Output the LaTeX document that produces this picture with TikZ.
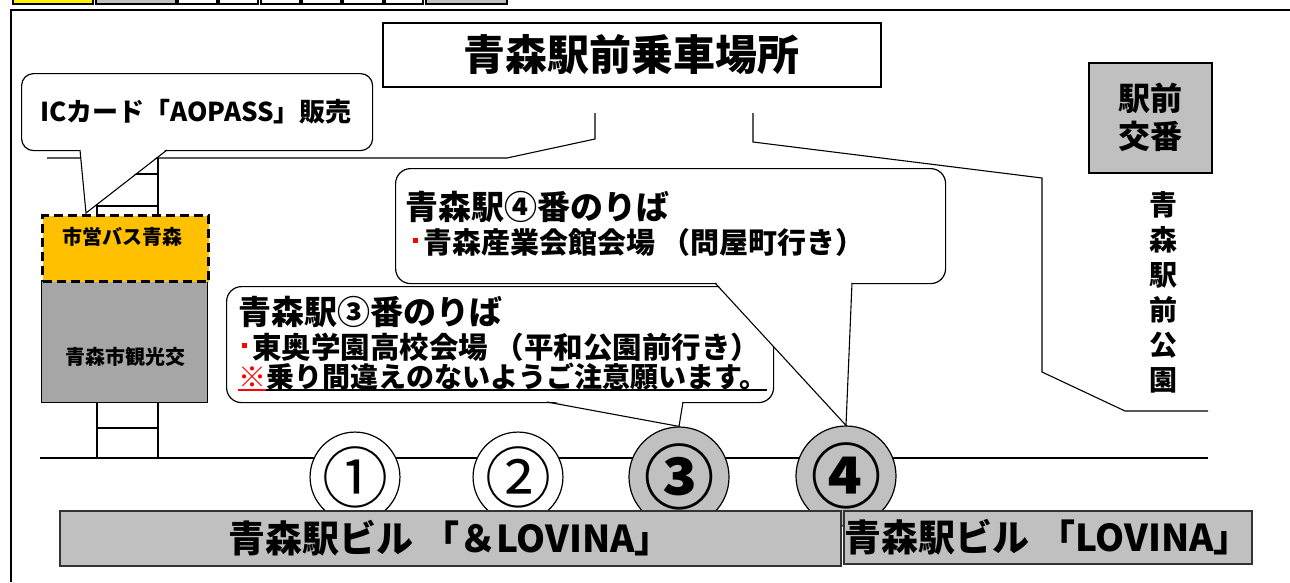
\documentclass[tikz,border=0pt]{standalone}
\usepackage{fontspec}
\setmainfont{Noto Sans CJK JP}
\usetikzlibrary{positioning}

\definecolor{busyellow}{HTML}{FFC000}
\definecolor{boxgray}{HTML}{C0C0C0}
\definecolor{darkbox}{HTML}{A6A6A6}
\newcommand{\fsz}[2]{\fontsize{#1pt}{#2pt}\selectfont}
\newcommand{\redsq}{{\color{red}\rule[10pt]{5pt}{5pt}}\hspace{5pt}}

\begin{document}
\begin{tikzpicture}[x=1pt,y=-1pt,
  roadline/.style={line width=1.1pt},
  stripcell/.style={draw, line width=1.3pt, fill=#1},
  bubble/.style={draw, fill=white, line width=1.2pt, rounded corners=#1, anchor=north west, inner sep=0pt},
  txt/.style={inner sep=0pt, anchor=west, font=\bfseries\fsz{#1}{#1}},
  stopcircle/.style={circle, draw, line width=1.2pt, inner sep=0pt, minimum size=#1},
  bldg/.style={draw=black!80, line width=1.5pt, fill=boxgray, inner sep=0pt, anchor=north west, font=\bfseries\fsz{37}{37}}
]
\useasboundingbox (0,0) rectangle (1290,582);

% Strip of cells at the top edge
\foreach \xa/\xb/\col in {13/93/yellow, 96/176/boxgray, 178/217/white, 219/258/white,
  261/300/white, 302/341/white, 343/383/white, 385/423/white, 426/507/boxgray}
  \draw[stripcell=\col] (\xa,-2) rectangle (\xb,4);

% Frame
\draw[line width=1.3pt] (11,582) -- (11,10) -- (1290,10);

% Coordinate points of the roads
\coordinate (rl1) at (47,158);
\coordinate (rl2) at (507,158);
\coordinate (rl3) at (595,139);
\coordinate (rl4) at (595,113);
\coordinate (rr1) at (753,113);
\coordinate (rr2) at (753,142);
\coordinate (rr3) at (1042,178);
\coordinate (rr4) at (1042,372);
\coordinate (rr5) at (1125,411);
\coordinate (rr6) at (1208,411);
\coordinate (tr1) at (40,458);
\coordinate (tr2) at (1208,458);

\draw[roadline] (rl1) -- (rl2) -- (rl3) -- (rl4);
\draw[roadline] (rr1) -- (rr2) -- (rr3) -- (rr4) -- (rr5) -- (rr6);
\draw[roadline] (tr1) -- (tr2);

% Stairs
\draw[roadline] (97,158) -- (97,214) (158,158) -- (158,214) (97,174) -- (158,174) (97,206) -- (158,206);
\draw[roadline] (97,402) -- (97,458) (158,402) -- (158,458) (97,428) -- (158,428);

% Bus office and tourist office
\node[draw, line width=1pt, fill=darkbox, minimum width=166pt, minimum height=122pt, inner sep=0pt, anchor=north west] (tour) at (41,280) {};
\node[draw, line width=3pt, dash pattern=on 9pt off 5pt, fill=busyellow, minimum width=166pt, minimum height=66pt, inner sep=0pt, anchor=north west] (bus) at (41,214) {};
\node[font=\bfseries\fsz{20}{20}, inner sep=0pt] (bustext) at (122,237) {市営バス青森};
\node[font=\bfseries\fsz{20}{20}, inner sep=0pt] (tourtext) at (125,357) {青森市観光交};

% IC card callout
\node[bubble=12pt, minimum width=351pt, minimum height=77pt] (ic) at (21,73) {};
\coordinate (ica) at (80,150);
\coordinate (icb) at (167,150);
\coordinate (ictip) at (86,213);
\fill[white] (80,148.6) -- (ictip) -- (167,148.6) -- cycle;
\draw[roadline] (ica) -- (ictip) -- (icb);
\node[font=\bfseries\fsz{26}{26}, inner sep=0pt] (ictext) at (196,112) {ICカード「AOPASS」販売};

% Title
\node[draw, line width=1.5pt, minimum width=498pt, minimum height=64pt, inner sep=0pt, anchor=north west, font=\bfseries\fsz{42}{42}] (title) at (382,22) {青森駅前乗車場所};

% Police box and park
\node[draw, line width=1.5pt, fill=boxgray, minimum width=123pt, minimum height=110pt, inner sep=0pt, anchor=north west, align=center, font=\bfseries\fsz{32}{38}] (koban) at (1088,62) {駅前\\交番};
\node[inner sep=0pt, align=center, font=\bfseries\fsz{28}{35}] (park) at (1163,292) {青\\森\\駅\\前\\公\\園};

% Stops on the track
\node[stopcircle=86pt, fill=white, font=\fsz{66}{66}] (p1) at (355,477) {①};
\node[stopcircle=86pt, fill=white, font=\fsz{66}{66}] (p2) at (518,477) {②};
\node[stopcircle=100pt, fill=boxgray, font=\bfseries\fsz{70}{70}] (p3) at (679,477) {③};
\node[stopcircle=100pt, fill=boxgray, font=\bfseries\fsz{70}{70}] (p4) at (846,476) {④};

% Callout for stop 3
\node[bubble=15pt, minimum width=547pt, minimum height=116pt] (b3) at (226,286) {};
\coordinate (b3a) at (547,402);
\coordinate (b3b) at (683,402);
\fill[white] (547,400.6) -- (p3.north) -- (683,400.6) -- cycle;
\draw[roadline] (b3a) -- (p3.north) -- (b3b);
\node[txt=33] (b3t1) at (238,312) {青森駅③番のりば};
\node[txt=29.5] (b3t2) at (242,347) {\redsq 東奥学園高校会場 （平和公園前行き）};
\node[txt=28, text=red, text height=23pt, text depth=3pt] (b3t3a) at (238,377) {※};
\node[txt=28, text height=23pt, text depth=3pt, right=0pt of b3t3a] (b3t3b) {乗り間違えのないようご注意願います。};
\draw[red, line width=1.5pt] (b3t3a.south west) -- (b3t3a.south east);
\draw[line width=1.5pt] (b3t3b.south west) -- (b3t3b.south east);

% Callout for stop 4
\node[bubble=15pt, minimum width=550pt, minimum height=115pt] (b4) at (395,168) {};
\coordinate (b4a) at (715,283);
\coordinate (b4b) at (852,283);
\fill[white] (715,281.6) -- (p4.north) -- (852,281.6) -- cycle;
\draw[roadline] (b4a) -- (p4.north) -- (b4b);
\node[txt=33] (b4t1) at (405,207) {青森駅④番のりば};
\node[txt=29] (b4t2) at (413,242) {\redsq 青森産業会館会場 （問屋町行き）};

% Station buildings
\node[bldg, minimum width=781pt, minimum height=55pt] (lovina1) at (59,510) {青森駅ビル 「＆LOVINA」};
\node[bldg, minimum width=408pt, minimum height=53pt] (lovina2) at (843,510) {青森駅ビル 「LOVINA」};

\end{tikzpicture}
\end{document}
